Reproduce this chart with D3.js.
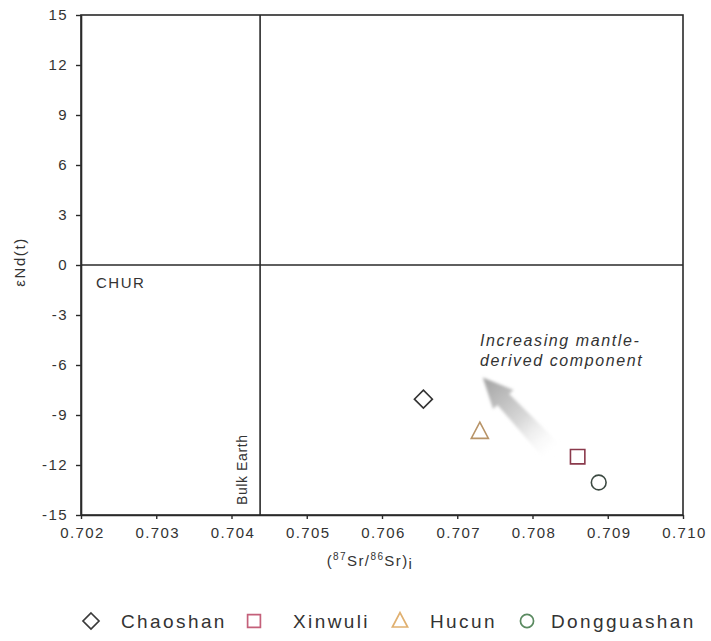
<!DOCTYPE html>
<html>
<head>
<meta charset="utf-8">
<script src="https://cdn.jsdelivr.net/npm/d3@7"></script>
<style>
html,body{margin:0;padding:0;background:#fff;}
svg{display:block;font-family:"Liberation Sans",Arial,sans-serif;}
</style>
</head>
<body>
<svg id="chart" width="711" height="641"></svg>
<script>
// ---- data ----
const groups = ["Chaoshan", "Xinwuli", "Hucun", "Dongguashan"];
const sr87_86 = [0.70655, 0.70860, 0.70730, 0.70888];
const eNd = [-8.05, -11.5, -10.0, -13.05];
const symbols = ["diamond", "square", "triangle", "circle"];
const pointColors = ["#333333", "#8a3a4c", "#b89468", "#3c4a42"];
const legendColors = ["#3a3a3a", "#c4607a", "#e0b070", "#5a8a60"];
const xTicks = [0.702, 0.703, 0.704, 0.705, 0.706, 0.707, 0.708, 0.709, 0.710];
const yTicks = [-15, -12, -9, -6, -3, 0, 3, 6, 9, 12, 15];
const bulkEarth = 0.70438;
const chur = 0;
const arrowFrom = [0.70830, -11.4];
const arrowTo = [0.70734, -6.75];

// ---- layout ----
const svg = d3.select("#chart");
const m = {left: 81, top: 15, right: 683, bottom: 515};
const x = d3.scaleLinear().domain([0.702, 0.710]).range([m.left, m.right]);
const y = d3.scaleLinear().domain([-15, 15]).range([m.bottom, m.top]);
const axisColor = "#2a2a2a";
const textColor = "#333";

// gradient for arrow
const defs = svg.append("defs");
const p0 = [x(arrowFrom[0]), y(arrowFrom[1])];
const p1 = [x(arrowTo[0]), y(arrowTo[1])];
const grad = defs.append("linearGradient").attr("id", "ag")
  .attr("gradientUnits", "userSpaceOnUse")
  .attr("x1", p0[0]).attr("y1", p0[1]).attr("x2", p1[0]).attr("y2", p1[1]);
grad.append("stop").attr("offset", "0").attr("stop-color", "#ffffff").attr("stop-opacity", 0);
grad.append("stop").attr("offset", "0.45").attr("stop-color", "#dadada");
grad.append("stop").attr("offset", "1").attr("stop-color", "#a2a2a2");
defs.append("filter").attr("id", "blur").append("feGaussianBlur").attr("stdDeviation", 1.6);

// arrow polygon
{
  const dx = p1[0]-p0[0], dy = p1[1]-p0[1];
  const L = Math.hypot(dx, dy);
  const ux = dx/L, uy = dy/L, nx = -uy, ny = ux;
  const headLen = 30, headW = 14, bodyW = 8, tailW = 11;
  const hb = [p1[0]-ux*headLen, p1[1]-uy*headLen];
  const pts = [
    [p0[0]+nx*tailW, p0[1]+ny*tailW],
    [hb[0]+nx*bodyW, hb[1]+ny*bodyW],
    [hb[0]+nx*headW, hb[1]+ny*headW],
    p1,
    [hb[0]-nx*headW, hb[1]-ny*headW],
    [hb[0]-nx*bodyW, hb[1]-ny*bodyW],
    [p0[0]-nx*tailW, p0[1]-ny*tailW]
  ];
  svg.append("polygon").attr("points", pts.map(p=>p.join(",")).join(" "))
    .attr("fill", "url(#ag)").attr("filter", "url(#blur)");
}

// frame
svg.append("rect").attr("x", m.left).attr("y", m.top)
  .attr("width", m.right-m.left).attr("height", m.bottom-m.top)
  .attr("fill", "none").attr("stroke", axisColor).attr("stroke-width", 1.6);

// reference lines
svg.append("line").attr("x1", x(bulkEarth)).attr("x2", x(bulkEarth))
  .attr("y1", m.top).attr("y2", m.bottom).attr("stroke", axisColor).attr("stroke-width", 1.6);
svg.append("line").attr("x1", m.left).attr("x2", m.right)
  .attr("y1", y(chur)).attr("y2", y(chur)).attr("stroke", axisColor).attr("stroke-width", 1.6);

// axes
const xAxis = d3.axisBottom(x).tickValues(xTicks).tickFormat(d3.format(".3f")).tickSize(4).tickSizeOuter(0);
const yAxis = d3.axisLeft(y).tickValues(yTicks).tickFormat(d=>d).tickSize(5).tickSizeOuter(0);
const gx = svg.append("g").attr("transform", `translate(0,${m.bottom})`).call(xAxis);
const gy = svg.append("g").attr("transform", `translate(${m.left},0)`).call(yAxis);
[gx, gy].forEach(g => {
  g.select(".domain").attr("stroke", axisColor).attr("stroke-width", 1.6);
  g.selectAll(".tick line").attr("stroke", axisColor).attr("stroke-width", 1.4);
  g.selectAll(".tick text").attr("fill", textColor).attr("font-size", 15)
    .attr("letter-spacing", 1.4)
    .attr("font-family", "Liberation Sans, Arial, sans-serif");
});
gx.selectAll(".tick text").attr("dy", "0.95em").attr("y", 9).attr("dx", 1);
gy.selectAll(".tick text").attr("x", -13);

// axis titles
svg.append("text").attr("transform", `translate(25,${y(0)-3}) rotate(-90)`)
  .attr("text-anchor", "middle").attr("font-size", 15).attr("letter-spacing", 1.6).attr("fill", textColor)
  .text("εNd(t)");
const xt = svg.append("text").attr("x", (m.left+m.right)/2 - 12).attr("y", 566)
  .attr("text-anchor", "middle").attr("font-size", 15).attr("letter-spacing", 1.4).attr("fill", textColor);
xt.append("tspan").text("(");
xt.append("tspan").attr("font-size", 10).attr("dy", -6).text("87");
xt.append("tspan").attr("dy", 6).text("Sr/");
xt.append("tspan").attr("font-size", 10).attr("dy", -6).text("86");
xt.append("tspan").attr("dy", 6).text("Sr)");
xt.append("tspan").attr("dy", 3).text("i");

// annotations
svg.append("text").attr("x", 96).attr("y", y(chur)+23).attr("font-size", 15)
  .attr("letter-spacing", 1.5).attr("fill", textColor).text("CHUR");
svg.append("text").attr("transform", `translate(${x(bulkEarth)-13},${m.bottom-10}) rotate(-90)`)
  .attr("font-size", 14).attr("letter-spacing", 0.6).attr("fill", textColor).text("Bulk Earth");
const ann = svg.append("text").attr("font-size", 16).attr("font-style", "italic")
  .attr("letter-spacing", 1.6).attr("fill", textColor);
ann.append("tspan").attr("x", 480).attr("y", 346).text("Increasing mantle-");
ann.append("tspan").attr("x", 480).attr("y", 366).text("derived component");

// symbols
function symPath(type, size) {
  const s = size;
  if (type === "diamond") return `M0,${-s}L${s},0L0,${s}L${-s},0Z`;
  if (type === "square") return `M${-s*0.8},${-s*0.8}H${s*0.8}V${s*0.8}H${-s*0.8}Z`;
  if (type === "triangle") return `M0,${-s*1.05}L${s*0.95},${s*0.75}L${-s*0.95},${s*0.75}Z`;
  return null;
}
function drawSym(g, type, cx, cy, size, color, sw) {
  if (type === "circle") {
    g.append("circle").attr("cx", cx).attr("cy", cy).attr("r", size*0.82)
      .attr("fill", "none").attr("stroke", color).attr("stroke-width", sw);
  } else {
    g.append("path").attr("d", symPath(type, size)).attr("transform", `translate(${cx},${cy})`)
      .attr("fill", "none").attr("stroke", color).attr("stroke-width", sw).attr("stroke-linejoin", "miter");
  }
}
const gp = svg.append("g");
groups.forEach((gname, i) => {
  drawSym(gp, symbols[i], x(sr87_86[i]), y(eNd[i]), 9, pointColors[i], 1.6);
});

// legend
const legX = [91, 254, 400, 527];
const legTX = [121, 293, 430, 551];
const lg = svg.append("g");
groups.forEach((gname, i) => {
  drawSym(lg, symbols[i], legX[i], 621, 8, legendColors[i], 1.7);
  lg.append("text").attr("x", legTX[i]).attr("y", 628).attr("font-size", 19)
    .attr("fill", textColor).attr("letter-spacing", 2.4).text(gname);
});
</script>
</body>
</html>
